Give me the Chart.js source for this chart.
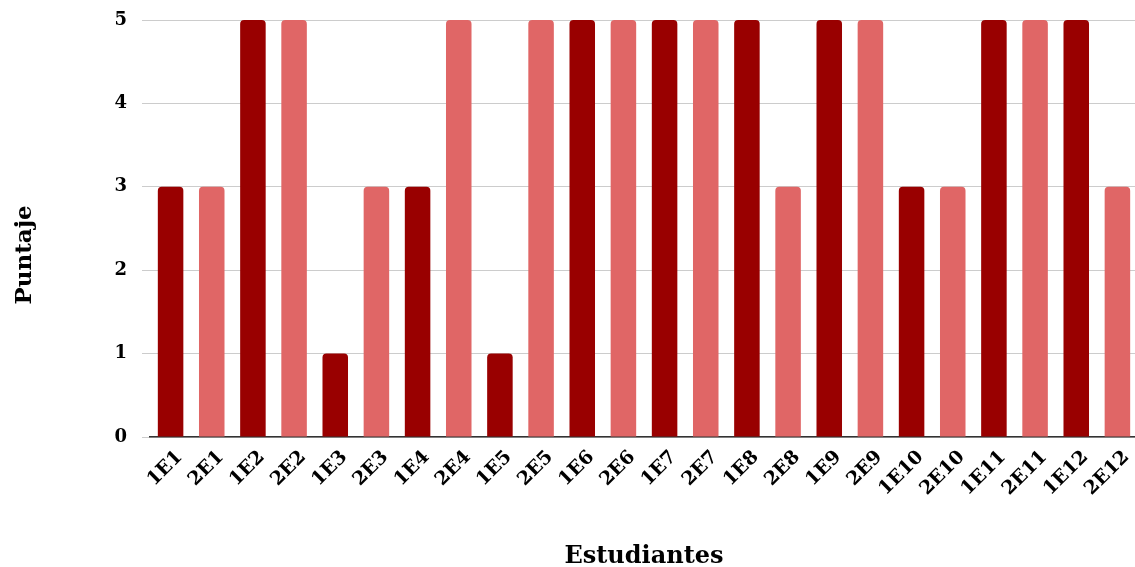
<!DOCTYPE html>
<html>
<head>
<meta charset="utf-8">
<script src="https://cdn.jsdelivr.net/npm/chart.js@4"></script>
<style>
  html, body { margin: 0; padding: 0; background: #fff; overflow: hidden; }
  #clip { width: 1135px; height: 567px; overflow: hidden; }
  #wrap { width: 1138px; height: 567px; }
</style>
</head>
<body>
<div id="clip"><div id="wrap"><canvas id="grafico"></canvas></div></div>
<script>
const estudiantes = ['1E1','2E1','1E2','2E2','1E3','2E3','1E4','2E4','1E5','2E5','1E6','2E6',
                     '1E7','2E7','1E8','2E8','1E9','2E9','1E10','2E10','1E11','2E11','1E12','2E12'];
const puntajes = [3, 3, 5, 5, 1, 3, 3, 5, 1, 5, 5, 5, 5, 5, 5, 3, 5, 5, 3, 3, 5, 5, 5, 3];
const yTicks = [0, 1, 2, 3, 4, 5];

const oscuro = '#990000';
const claro = '#e06666';
const colores = estudiantes.map(e => e.startsWith('1') ? oscuro : claro);

const fuente = 'DejaVu Serif';

// titulo vertical del eje Y, centrado en el lienzo como en el original
const tituloY = {
    id: 'tituloY',
    afterDraw(chart) {
        const c = chart.ctx;
        c.save();
        c.translate(25, 255);
        c.rotate(-Math.PI / 2);
        c.font = 'bold 23px "' + fuente + '"';
        c.fillStyle = '#000';
        c.textAlign = 'center';
        c.textBaseline = 'middle';
        c.fillText('Puntaje', 0, 0);
        c.restore();
    },
};

const ctx = document.getElementById('grafico').getContext('2d');

const myChart = new Chart(ctx, {
    type: 'bar',
    data: {
        labels: estudiantes,
        datasets: [{
            label: 'Puntaje',
            data: puntajes,
            backgroundColor: colores,
            borderRadius: { topLeft: 4, topRight: 4 },
            borderSkipped: 'bottom',
            categoryPercentage: 1,
            barPercentage: 0.62,
        }],
    },
    plugins: [tituloY],
    options: {
        responsive: true,
        maintainAspectRatio: false,
        animation: false,
        layout: { padding: { top: 20, right: 0 } },
        plugins: {
            legend: { display: false },
            tooltip: { enabled: false },
        },
        scales: {
            x: {
                grid: { display: false, drawTicks: false },
                border: { color: '#333333', width: 1.5 },
                ticks: {
                    color: '#000',
                    font: { family: fuente, size: 19, weight: 'bold' },
                    maxRotation: 45,
                    minRotation: 45,
                    padding: 9,
                    labelOffset: 9,
                    autoSkip: false,
                },
                title: {
                    display: true,
                    text: 'Estudiantes',
                    color: '#000',
                    font: { family: fuente, size: 24, weight: 'bold', lineHeight: 1 },
                    padding: { top: 10, bottom: -2 },
                },
                afterFit: (scale) => {
                    scale.height = 130;
                    scale.paddingLeft = 0;
                    scale.paddingRight = 0;
                },
            },
            y: {
                min: 0,
                max: 5,
                afterBuildTicks: (scale) => { scale.ticks = yTicks.map(v => ({ value: v })); },
                grid: { color: '#cccccc', drawTicks: true, tickLength: 8, tickColor: '#cccccc' },
                border: { display: false },
                ticks: {
                    color: '#000',
                    font: { family: fuente, size: 18, weight: 'bold' },
                    padding: 15,
                },
                afterFit: (scale) => {
                    scale.width = 150;
                    scale.paddingTop = 0;
                    scale.paddingBottom = 0;
                },
            },
        },
    },
});
</script>
</body>
</html>
